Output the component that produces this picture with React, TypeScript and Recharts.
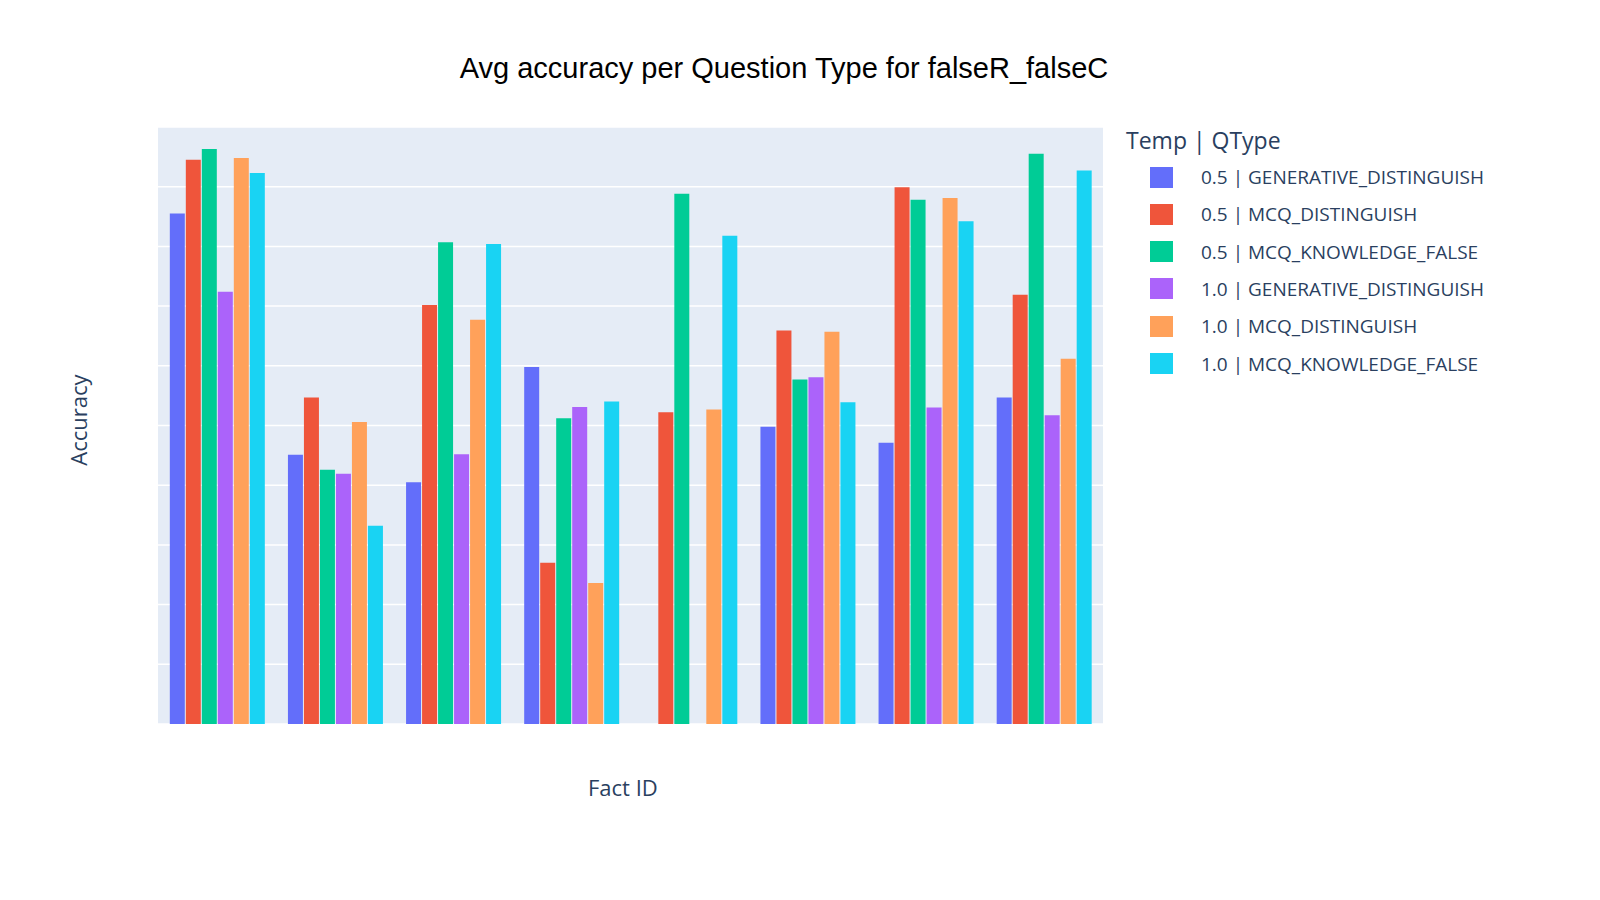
import React from "react";
import { BarChart, Bar, XAxis, YAxis, CartesianGrid } from "recharts";

const factIds = ["0", "1", "2", "3", "4", "5", "6", "7"];
const seriesNames = [
  "0.5 | GENERATIVE_DISTINGUISH",
  "0.5 | MCQ_DISTINGUISH",
  "0.5 | MCQ_KNOWLEDGE_FALSE",
  "1.0 | GENERATIVE_DISTINGUISH",
  "1.0 | MCQ_DISTINGUISH",
  "1.0 | MCQ_KNOWLEDGE_FALSE",
];
const colors = ["#636EFA", "#EF553B", "#00CC96", "#AB63FA", "#FFA15A", "#19D3F3"];
const gen05 = [0.855, 0.451, 0.405, 0.598, null, 0.498, 0.471, 0.547];
const mcq05 = [0.945, 0.547, 0.702, 0.27, 0.522, 0.659, 0.899, 0.719];
const know05 = [0.963, 0.426, 0.807, 0.512, 0.888, 0.577, 0.878, 0.955];
const gen10 = [0.724, 0.419, 0.452, 0.531, null, 0.581, 0.53, 0.517];
const mcq10 = [0.948, 0.506, 0.677, 0.236, 0.527, 0.657, 0.881, 0.612];
const know10 = [0.923, 0.332, 0.804, 0.54, 0.818, 0.539, 0.842, 0.927];
const yTicks = [0, 0.1, 0.2, 0.3, 0.4, 0.5, 0.6, 0.7, 0.8, 0.9, 1];

const allSeries = [gen05, mcq05, know05, gen10, mcq10, know10];
const data = factIds.map((id, i) => {
  const row: any = { id };
  allSeries.forEach((s, k) => (row["s" + k] = s[i]));
  return row;
});

const font = "'Open Sans', sans-serif";
const ink = "#2a3f5f";

export default function App() {
  return (
    <div style={{ position: "absolute", left: 0, top: 0, width: 1600, height: 900, background: "#fff", fontFamily: font }}>
      <div style={{ position: "absolute", top: 52, left: 0, width: 1568, textAlign: "center", fontSize: 29, color: "#000", fontFamily: "Arial, 'Liberation Sans', sans-serif" }}>
        Avg accuracy per Question Type for falseR_falseC
      </div>
      <BarChart width={1600} height={900} data={data} margin={{ top: 127, right: 497, bottom: 176, left: 158 }} barCategoryGap="10%" barGap={1}>
        <CartesianGrid vertical={false} stroke="#fff" strokeWidth={1.5} fill="#E5ECF6" />
        <XAxis dataKey="id" axisLine={false} tickLine={false} tick={{ fill: ink, fontSize: 17, fontFamily: font }} tickMargin={6} height={0} />
        <YAxis domain={[0, 1]} ticks={yTicks} axisLine={false} tickLine={false} width={0} tick={{ fill: ink, fontSize: 17, fontFamily: font }} tickMargin={4} />
        {seriesNames.map((n, k) => (
          <Bar key={n} dataKey={"s" + k} name={n} fill={colors[k]} isAnimationActive={false} />
        ))}
      </BarChart>
      <div style={{ position: "absolute", left: 588, top: 772, fontSize: 22, color: ink }}>Fact ID</div>
      <div style={{ position: "absolute", left: 78, top: 420, fontSize: 22, color: ink, transform: "translate(-50%,-50%) rotate(-90deg)" }}>Accuracy</div>
      <div style={{ position: "absolute", left: 1126, top: 124, fontSize: 23, color: ink }}>Temp | QType</div>
      {seriesNames.map((n, k) => (
        <div key={n} style={{ position: "absolute", left: 1150, top: 165 + k * 37.3, display: "flex", alignItems: "center", height: 24 }}>
          <div style={{ width: 23, height: 21, background: colors[k] }} />
          <span style={{ marginLeft: 28, fontSize: 19, color: ink }}>{n}</span>
        </div>
      ))}
    </div>
  );
}
